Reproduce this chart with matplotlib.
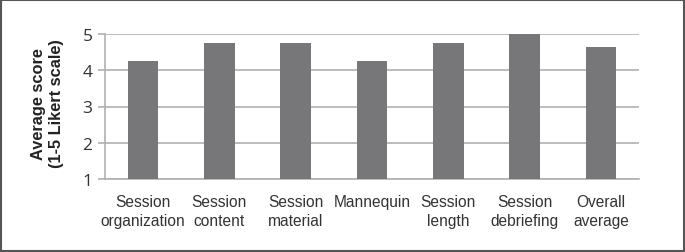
import matplotlib
matplotlib.use("Agg")
import matplotlib.pyplot as plt
from matplotlib.patches import Rectangle

categories = ["Session\norganization", "Session\ncontent", "Session\nmaterial",
              "Mannequin", "Session\nlength", "Session\ndebriefing", "Overall\naverage"]
values = [4.25, 4.75, 4.75, 4.25, 4.75, 5.0, 4.63]
yticks = [1, 2, 3, 4, 5]

fig = plt.figure(figsize=(6.85, 2.53), dpi=100)
ax = fig.add_axes([105/685, 1 - 180/253, (639-105)/685, (180-35)/253])

x = list(range(len(categories)))
ax.bar(x, [v - 1 for v in values], bottom=1, width=0.4, color="#77777a", zorder=3)
ax.set_xlim(-0.5, len(categories) - 0.5)
ax.set_ylim(1, 5)
ax.set_yticks(yticks)
ax.set_yticklabels([str(t) for t in yticks], fontsize=12.5, family=["Open Sans", "DejaVu Sans"], color="#333333")
ax.set_xticks(x)
ax.set_xticklabels(categories, fontsize=11.2, family=["Liberation Sans", "DejaVu Sans"], color="#333333", linespacing=1.3)
ax.tick_params(axis="x", length=0, pad=11)
ax.tick_params(axis="y", length=5, width=1.2, color="#b0b0b0", pad=4)
ax.grid(axis="y", color="#b0b0b0", linewidth=1.2, zorder=0)
for s in ["top", "right"]:
    ax.spines[s].set_visible(False)
for s in ["left", "bottom"]:
    ax.spines[s].set_color("#b0b0b0")
    ax.spines[s].set_linewidth(1.2)

fig.text(48/685, 1 - 104/253, "Average score\n(1-5 Likert scale)", rotation=90,
         ha="center", va="center", fontsize=11.8, fontweight="bold",
         family=["Liberation Sans", "DejaVu Sans"], color="#222222", linespacing=1.25)

fig.patches.append(Rectangle((0.002, 0.004), 0.996, 0.992, transform=fig.transFigure,
                             fill=False, edgecolor="#555555", linewidth=1.5))
fig.savefig("out.png", dpi=100, facecolor="white")
